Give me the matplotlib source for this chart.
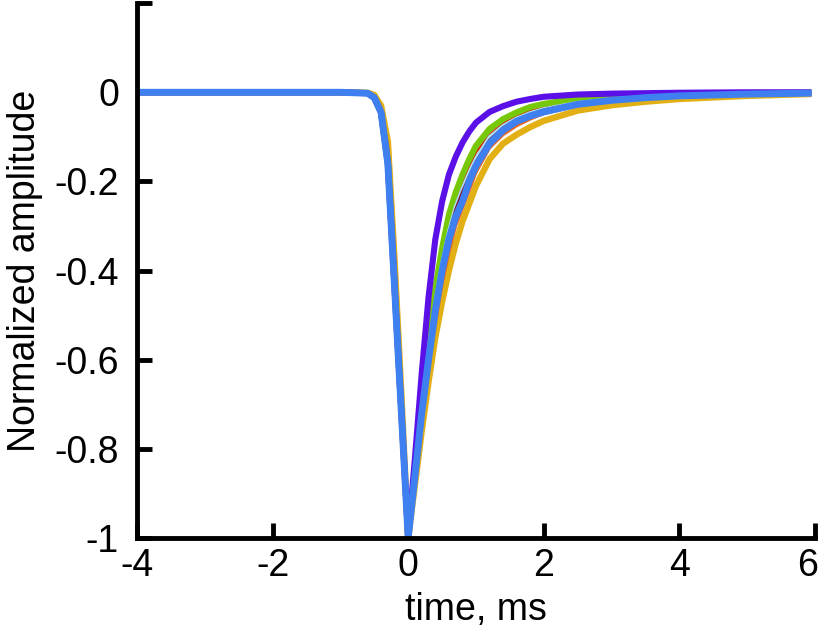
import matplotlib.pyplot as plt
import matplotlib.transforms as mtransforms

# time axis shared by all traces (ms)
time_ms = [-4.0, -1.0, -0.6, -0.5, -0.4, -0.3, -0.2, -0.1, 0.0,
           0.1, 0.2, 0.3, 0.4, 0.5, 0.6, 0.7, 0.8, 0.9, 1.0,
           1.2, 1.4, 1.6, 1.8, 2.0, 2.5, 3.0, 3.5, 4.0, 5.0, 5.9]

# normalized amplitude of each trace
gold = [0, 0, -0.001, -0.006, -0.03, -0.11, -0.38, -0.68, -1.0,
        -0.88, -0.76, -0.65, -0.55, -0.47, -0.40, -0.34, -0.29, -0.25, -0.21,
        -0.15, -0.115, -0.095, -0.078, -0.064, -0.041, -0.029, -0.021, -0.015, -0.008, -0.004]
orange = [0, 0, -0.001, -0.008, -0.035, -0.12, -0.36, -0.66, -1.0,
          -0.87, -0.74, -0.62, -0.52, -0.43, -0.36, -0.30, -0.26, -0.22, -0.18,
          -0.125, -0.095, -0.075, -0.06, -0.048, -0.03, -0.02, -0.014, -0.01, -0.005, -0.003]
red = [0, 0, -0.002, -0.01, -0.04, -0.14, -0.40, -0.70, -1.0,
       -0.84, -0.69, -0.57, -0.46, -0.37, -0.30, -0.245, -0.20, -0.165, -0.135,
       -0.095, -0.07, -0.053, -0.04, -0.032, -0.02, -0.013, -0.009, -0.006, -0.003, -0.001]
green = [0, 0, -0.002, -0.012, -0.045, -0.16, -0.44, -0.72, -1.0,
         -0.85, -0.70, -0.56, -0.44, -0.35, -0.275, -0.225, -0.185, -0.15, -0.12,
         -0.082, -0.06, -0.045, -0.033, -0.026, -0.014, -0.01, -0.007, -0.005, -0.002, -0.001]
purple = [0, 0, -0.002, -0.012, -0.045, -0.16, -0.44, -0.72, -1.0,
          -0.82, -0.63, -0.46, -0.33, -0.245, -0.185, -0.145, -0.113, -0.088, -0.068,
          -0.044, -0.031, -0.021, -0.015, -0.01, -0.005, -0.003, -0.002, -0.001, 0, 0]
cyan = [0, 0, -0.002, -0.012, -0.045, -0.16, -0.44, -0.72, -1.0,
        -0.85, -0.71, -0.58, -0.47, -0.38, -0.31, -0.255, -0.215, -0.18, -0.148,
        -0.10, -0.075, -0.058, -0.046, -0.037, -0.023, -0.015, -0.01, -0.007, -0.003, -0.002]
darkred = [0, 0, -0.002, -0.012, -0.045, -0.16, -0.44, -0.72, -1.0,
           -0.855, -0.715, -0.59, -0.48, -0.39, -0.32, -0.265, -0.225, -0.19, -0.157,
           -0.108, -0.08, -0.062, -0.05, -0.04, -0.025, -0.017, -0.011, -0.008, -0.004, -0.002]
blue = [0, 0, -0.002, -0.012, -0.045, -0.16, -0.44, -0.72, -1.0,
        -0.86, -0.72, -0.60, -0.49, -0.40, -0.33, -0.28, -0.245, -0.20, -0.165,
        -0.115, -0.085, -0.065, -0.053, -0.044, -0.027, -0.018, -0.012, -0.008, -0.004, -0.002]

traces = [
    (gold, '#e2b015', 4.6),
    (orange, '#e8641e', 2.2),
    (red, '#d42a12', 1.8),
    (green, '#78c80a', 4.4),
    (purple, '#5a10e6', 4.4),
    (cyan, '#a6e2f2', 2.4),
    (darkred, '#8c0a2c', 2.4),
    (blue, '#3f80f0', 5.0),
]

plt.rcParams['font.family'] = ['Liberation Sans', 'DejaVu Sans']

fig = plt.figure(figsize=(8.2, 6.38), dpi=100)
ax = fig.add_axes([0.167, 0.157, 0.827, 0.838])

for vals, col, lw in traces:
    ax.plot(time_ms, vals, color=col, lw=lw, solid_joinstyle='round')

ax.set_xlim(-4, 6)
ax.set_ylim(-1, 0.2)
ax.set_xticks([-4, -2, 0, 2, 4, 6])
ax.set_xticklabels(['-4', '-2', '0', '2', '4', '6'])
ax.set_yticks([-1, -0.8, -0.6, -0.4, -0.2, 0, 0.2])
ax.set_yticklabels(['-1', '-0.8', '-0.6', '-0.4', '-0.2', '0', ''])

for s in ['top', 'right']:
    ax.spines[s].set_visible(False)
for s in ['left', 'bottom']:
    ax.spines[s].set_linewidth(3.5)
ax.tick_params(direction='in', length=11, width=3.5, labelsize=27)
ax.tick_params(axis='x', pad=7)
ax.tick_params(axis='y', pad=13)

# keep the last x label inside the figure, as in the original
last = ax.get_xticklabels()[-1]
last.set_transform(last.get_transform() +
                   mtransforms.ScaledTranslation(-8 / 100, 0, fig.dpi_scale_trans))

ax.set_xlabel('time, ms', fontsize=27, labelpad=6)
ax.set_ylabel('Normalized amplitude', fontsize=27, labelpad=8)

fig.savefig('out.png', dpi=100)
